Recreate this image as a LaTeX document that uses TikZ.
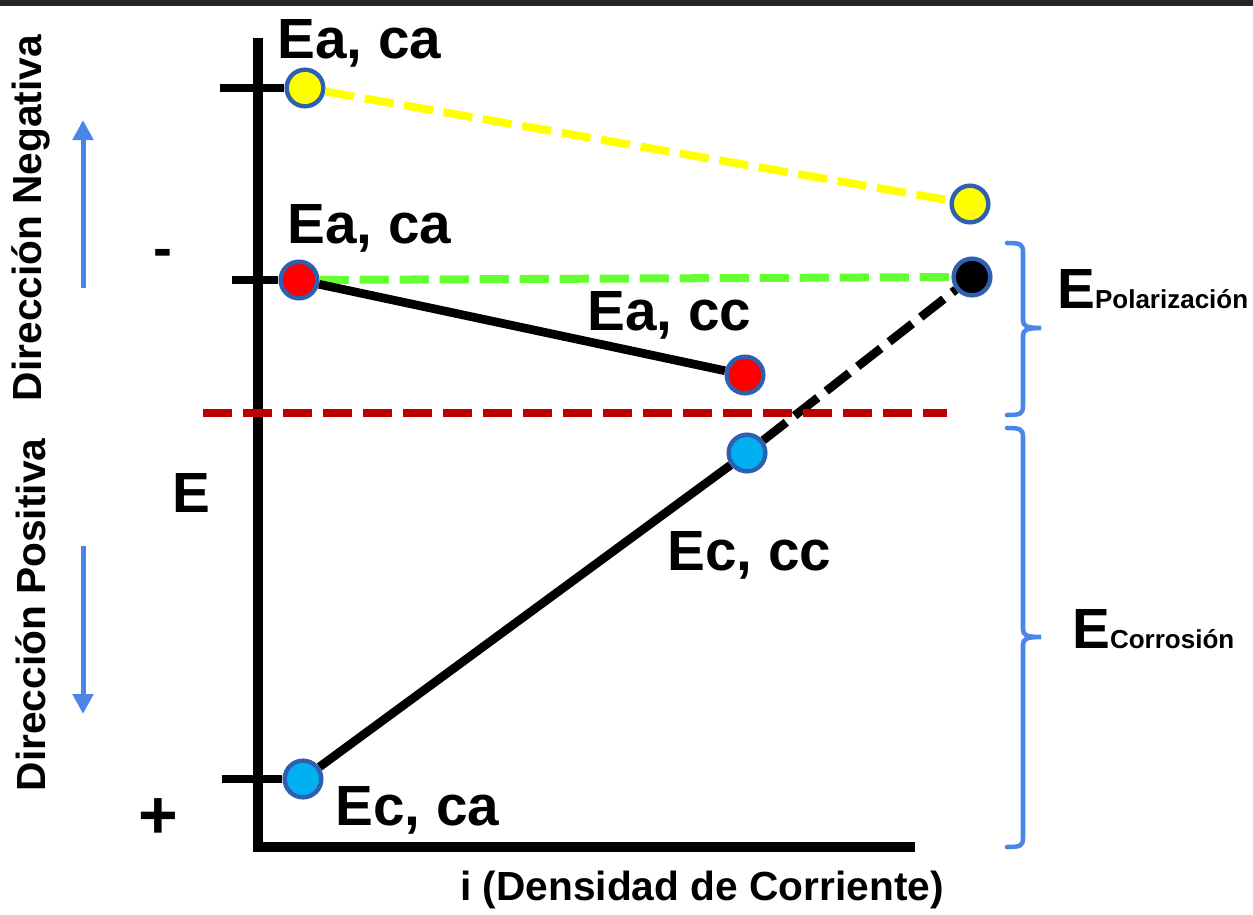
\documentclass[tikz,border=0pt]{standalone}
\usepackage{fontspec}
\setmainfont{Liberation Sans}
\usetikzlibrary{arrows.meta}
\definecolor{ringblue}{RGB}{47,95,175}
\definecolor{arrblue}{RGB}{74,134,232}
\definecolor{dotyellow}{RGB}{255,255,0}
\definecolor{dotred}{RGB}{255,0,0}
\definecolor{dotcyan}{RGB}{0,176,240}
\definecolor{lngreen}{RGB}{102,255,51}
\definecolor{lnred}{RGB}{192,0,0}
\tikzset{
  dotn/.style={circle, draw=ringblue, line width=3.3pt, minimum size=27.5pt, inner sep=0pt},
  lbl/.style={inner sep=0pt, anchor=base west, font=\bfseries\fontsize{42.5}{46}\selectfont},
  sidelbl/.style={inner sep=0pt, rotate=90, font=\bfseries\fontsize{30.5}{34}\selectfont},
  dashln/.style={line width=6pt, dash pattern=on 22pt off 8pt},
  bracln/.style={arrblue, line width=3.4pt, line cap=round},
}
\begin{document}
\begin{tikzpicture}[x=0.75pt,y=0.75pt,yscale=-1,xscale=1]
    \useasboundingbox (0,0) rectangle (1253,914);
    % frame line on top
    \fill [black!85] (0,0) rectangle (1253,6);
    % axes
    \draw [line width=7pt, line join=miter] (258,38) -- (258,847) -- (915,847);
    % points
    \node [dotn, fill=dotyellow] (eacaA) at (305,88) {};
    \node [dotn, fill=dotyellow] (eacaB) at (970,204) {};
    \node [dotn, fill=dotred] (eaA) at (299,280) {};
    \node [dotn, fill=dotred] (eaB) at (745,375) {};
    \node [dotn, fill=black] (epol) at (972,277) {};
    \node [dotn, fill=dotcyan] (ecB) at (747,453) {};
    \node [dotn, fill=dotcyan] (ecA) at (303,779) {};
    % ticks
    \coordinate (tkA) at (220,88);
    \coordinate (tkB) at (232,280);
    \coordinate (tkC) at (222,779);
    \draw [line width=5.5pt] (tkA) -- (eacaA);
    \draw [line width=5.5pt] (tkB) -- (eaA);
    \draw [line width=5.5pt] (tkC) -- (ecA);
    % lines
    \draw [dashln, dotyellow] (eacaA) -- (eacaB);
    \draw [dashln, lngreen] (eaA) -- (epol);
    \draw [line width=6.5pt] (eaA) -- (eaB);
    \draw [line width=6.5pt] (ecA) -- (ecB);
    \draw [dashln, line width=6.5pt] (ecB) -- (epol);
    \coordinate (rdA) at (203,413);
    \coordinate (rdB) at (947,413);
    \draw [dashln, lnred, line width=6.5pt] (rdA) -- (rdB);
    % direction arrows
    \coordinate (upA) at (83,288);
    \coordinate (upB) at (83,120);
    \coordinate (dnA) at (83,546);
    \coordinate (dnB) at (83,714);
    \draw [arrblue, line width=3.75pt, -{Triangle[width=15pt,length=15pt]}] (upA) -- (upB);
    \draw [arrblue, line width=3.75pt, -{Triangle[width=15pt,length=15pt]}] (dnA) -- (dnB);
    % braces
    \draw [bracln] (1007,243) .. controls (1020,243) and (1023,244) .. (1023,252) -- (1023,320) .. controls (1023,326) and (1026,328) .. (1041,328) .. controls (1026,328) and (1023,330) .. (1023,336) -- (1023,406) .. controls (1023,414) and (1020,415) .. (1007,415);
    \draw [bracln] (1007,428) .. controls (1020,428) and (1023,429) .. (1023,437) -- (1023,629) .. controls (1023,635) and (1026,637) .. (1041,637) .. controls (1026,637) and (1023,639) .. (1023,645) -- (1023,838) .. controls (1023,846) and (1020,847) .. (1007,847);
    % labels
    \node [lbl] (lEacaA) at (277,58) {Ea, ca};
    \node [lbl] (lEacaB) at (287,243) {Ea, ca};
    \node [lbl] (lEacc) at (587,330) {Ea, cc};
    \node [lbl] (lEccc) at (667,570) {Ec, cc};
    \node [lbl] (lEcca) at (335,825) {Ec, ca};
    \node [lbl] (lE) at (172,512) {E};
    \node [lbl] (lminus) at (153,267) {-};
    \node [lbl, font=\bfseries\fontsize{51}{55}\selectfont] (lplus) at (138,838) {+};
    \node [lbl] (lpol) at (1057,308) {E{\fontsize{19.5}{22}\selectfont Polarización}};
    \node [lbl] (lcor) at (1072,648) {E{\fontsize{19.5}{22}\selectfont Corrosión}};
    \node [lbl, font=\bfseries\fontsize{30.5}{34}\selectfont] (lcur) at (460,900) {i (Densidad de Corriente)};
    \node [sidelbl] (ldneg) at (31,218) {Dirección Negativa};
    \node [sidelbl] (ldpos) at (31,615) {Dirección Positiva};
\end{tikzpicture}
\end{document}
